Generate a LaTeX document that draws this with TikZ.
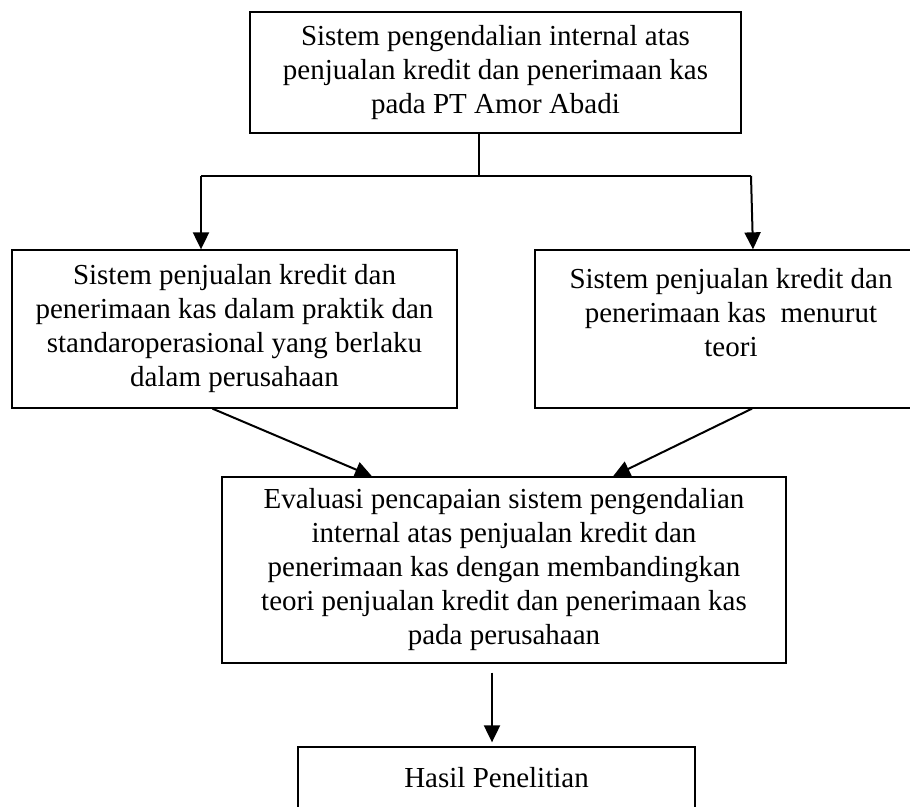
\documentclass[tikz,border=0pt]{standalone}
\usepackage{fontspec}
\setmainfont{Liberation Serif}
\usetikzlibrary{arrows.meta}
\begin{document}
\begin{tikzpicture}[x=0.5pt, y=-0.5pt,
  kotak/.style={draw, line width=0.65pt, align=center, inner sep=0pt, font=\fontsize{14.5}{17}\selectfont},
  panah/.style={-{Triangle[width=8pt, length=8.5pt]}, line width=1pt}]
  \path[use as bounding box, fill=white] (0,0) rectangle (910,807);

  \node[kotak, minimum width=245.5pt, minimum height=60.5pt] (atas) at (495.5,72.5)
    {Sistem pengendalian internal atas\\penjualan kredit dan penerimaan kas\\pada PT Amor Abadi};
  \node[kotak, minimum width=222.5pt, minimum height=79pt] (kiri) at (234.5,329)
    {Sistem penjualan kredit dan\\penerimaan kas dalam praktik dan\\standaroperasional yang berlaku\\dalam perusahaan};
  \node[kotak, minimum width=196pt, minimum height=79pt] (kanan) at (731,329)
    {Sistem penjualan kredit dan\\penerimaan kas~~menurut\\teori\\~};
  \node[kotak, minimum width=282pt, minimum height=93pt] (tengah) at (504,570)
    {Evaluasi pencapaian sistem pengendalian\\internal atas penjualan kredit dan\\penerimaan kas dengan membandingkan\\teori penjualan kredit dan penerimaan kas\\pada perusahaan};
  \node[kotak, minimum width=198.5pt, minimum height=47pt] (hasil) at (496.5,794)
    {Hasil Penelitian\\~};

  \coordinate (cabang) at (479,176);
  \coordinate (cabangkiri) at (201,176);
  \coordinate (cabangkanan) at (751,176);

  \draw[line width=0.6pt] (atas.south -| cabang) -- (cabang);
  \draw[line width=0.75pt] (cabangkiri) -- (cabangkanan);
  \draw[panah] (cabangkiri) -- (kiri.north -| cabangkiri);
  \draw[panah] (cabangkanan) -- ([xshift=1pt]kanan.north -| cabangkanan);
  \draw[panah] ([xshift=-11pt]kiri.south) -- ([xshift=-66pt]tengah.north);
  \draw[panah] ([xshift=10.5pt]kanan.south) -- ([xshift=54.5pt]tengah.north);
  \draw[panah] ([xshift=-6pt, yshift=-4.5pt]tengah.south) -- ([xshift=-2.25pt, yshift=2pt]hasil.north);
\end{tikzpicture}
\end{document}
